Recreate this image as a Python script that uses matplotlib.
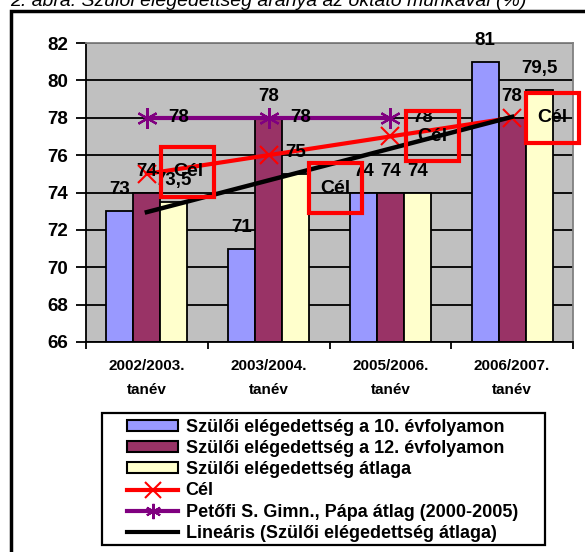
import numpy as np
import matplotlib
matplotlib.use("Agg")
import matplotlib.pyplot as plt
from matplotlib.patches import Rectangle, Patch
from matplotlib.lines import Line2D
from matplotlib.transforms import IdentityTransform

plt.rcParams['font.family'] = ['Liberation Sans', 'DejaVu Sans']

title = "2. ábra: Szülői elégedettség aránya az oktató munkával (%)"
categories = ["2002/2003.\ntanév", "2003/2004.\ntanév", "2005/2006.\ntanév", "2006/2007.\ntanév"]
grade10 = [73, 71, 74, 81]
grade12 = [74, 78, 74, 78]
average = [73.5, 75, 74, 79.5]
target = [75, 76, 77, 78]
school_avg = [78, 78, 78]   # only the first three years
yticks = list(range(66, 83, 2))

names = ["Szülői elégedettség a 10. évfolyamon",
         "Szülői elégedettség a 12. évfolyamon",
         "Szülői elégedettség átlaga",
         "Cél",
         "Petőfi S. Gimn., Pápa átlag (2000-2005)",
         "Lineáris (Szülői elégedettség átlaga)"]
bar_colors = ['#9999FF', '#993366', '#FFFFCC']

W, H = 585, 552
fig = plt.figure(figsize=(W / 100, H / 100), dpi=100)
ax = fig.add_axes([86 / W, 1 - 342 / H, (573 - 86) / W, (342 - 43) / H])
ax.set_facecolor('#C0C0C0')
ax.set_axisbelow(True)

x = np.arange(len(categories))
bw = 1 / 4.5

def fmt(v):
    return f"{v:g}".replace('.', ',')

for i, (vals, col) in enumerate(zip([grade10, grade12, average], bar_colors)):
    pos = x + (i - 1) * bw
    ax.bar(pos, np.array(vals) - 66, bw, bottom=66, color=col, edgecolor='black',
           linewidth=1.3, zorder=2)
    for px, v in zip(pos, vals):
        ax.annotate(fmt(v), (px, v), xytext=(0, 13), textcoords='offset pixels',
                    ha='center', va='bottom', fontsize=13.5, fontweight='bold', zorder=8)

# school average line
xs = x[:len(school_avg)]
ax.plot(xs, school_avg, color='#800080', lw=3, marker=(6, 2, 0), markersize=15,
        mew=1.6, zorder=4)
for px, v in zip(xs, school_avg):
    ax.annotate(fmt(v), (px, v), xytext=(32, 0), textcoords='offset pixels',
                ha='center', va='center', fontsize=13.5, fontweight='bold', zorder=8)

# target line
ax.plot(x, target, color='#FF0000', lw=3, marker='x', markersize=13, mew=1.5, zorder=5)

# linear trend of the average
k, b = np.polyfit(x + 1, average, 1)
ax.plot([x[0], x[-1]], [k * (x[0] + 1) + b, k * (x[-1] + 1) + b], color='black', lw=3.2,
        zorder=6)

ax.set_xlim(-0.5, 3.5)
ax.set_ylim(66, 82)
ax.set_yticks(yticks)
ax.set_yticklabels([str(t) for t in yticks], fontsize=13.5, fontweight='bold')
ax.yaxis.grid(True, color='black', lw=1.3)
ax.tick_params(axis='y', length=7, width=1.3, pad=6)
ax.set_xticks(x)
ax.set_xticklabels(categories, fontsize=11, fontweight='bold', linespacing=1.9)
ax.set_xticks(np.arange(-0.5, 4, 1), minor=True)
ax.tick_params(axis='x', which='major', length=0, pad=12)
ax.tick_params(axis='x', which='minor', length=5, width=1.3)
for s in ['left', 'bottom']:
    ax.spines[s].set_linewidth(1.3)
for s in ['top', 'right']:
    ax.spines[s].set_color('#808080')
    ax.spines[s].set_linewidth(1.3)

# "Cél" label boxes (moved by hand in the original)
fig.canvas.draw()
cel_offsets = [(41, 2), (67, -33), (42, 0), (40, 0)]
for px, v, (dx, dy) in zip(x, target, cel_offsets):
    cx, cy = ax.transData.transform((px, v))
    cx, cy = cx + dx, cy + dy
    fig.add_artist(Rectangle((cx - 26.5, cy - 25), 53, 50, transform=IdentityTransform(),
                             fill=False, edgecolor='#FF0000', lw=3, zorder=10))
    fig.text(cx, cy, "Cél", transform=IdentityTransform(), ha='center', va='center',
             fontsize=14, fontweight='bold', zorder=11)

# legend with its own frame
handles = [Patch(facecolor=c, edgecolor='black', lw=1.5) for c in bar_colors]
handles += [Line2D([], [], color='#FF0000', lw=3, marker='x', markersize=11, mew=1.5),
            Line2D([], [], color='#800080', lw=3, marker=(6, 2, 0), markersize=11, mew=1.5),
            Line2D([], [], color='black', lw=3)]
fig.legend(handles, names, loc='upper left', bbox_to_anchor=(127 / W, 1 - 419 / H),
           bbox_transform=fig.transFigure, frameon=False, borderpad=0, borderaxespad=0,
           prop={'weight': 'bold', 'size': 13}, handlelength=2.85, handleheight=0.55,
           handletextpad=0.4, labelspacing=0.23)
fig.add_artist(Rectangle((102 / W, 1 - 545 / H), (545 - 102) / W, (545 - 413) / H,
                         transform=fig.transFigure, fill=False, edgecolor='black', lw=1.6))

# outer frame, cut off by the image edge
fig.add_artist(Rectangle((11 / W, -0.1), 1.2, 1.1 - 11 / H, transform=fig.transFigure,
                         fill=False, edgecolor='black', lw=2.5))
fig.text(10 / W, 1 - 6 / H, title, style='italic', fontsize=14, va='baseline')

fig.savefig("out.png", dpi=100)
